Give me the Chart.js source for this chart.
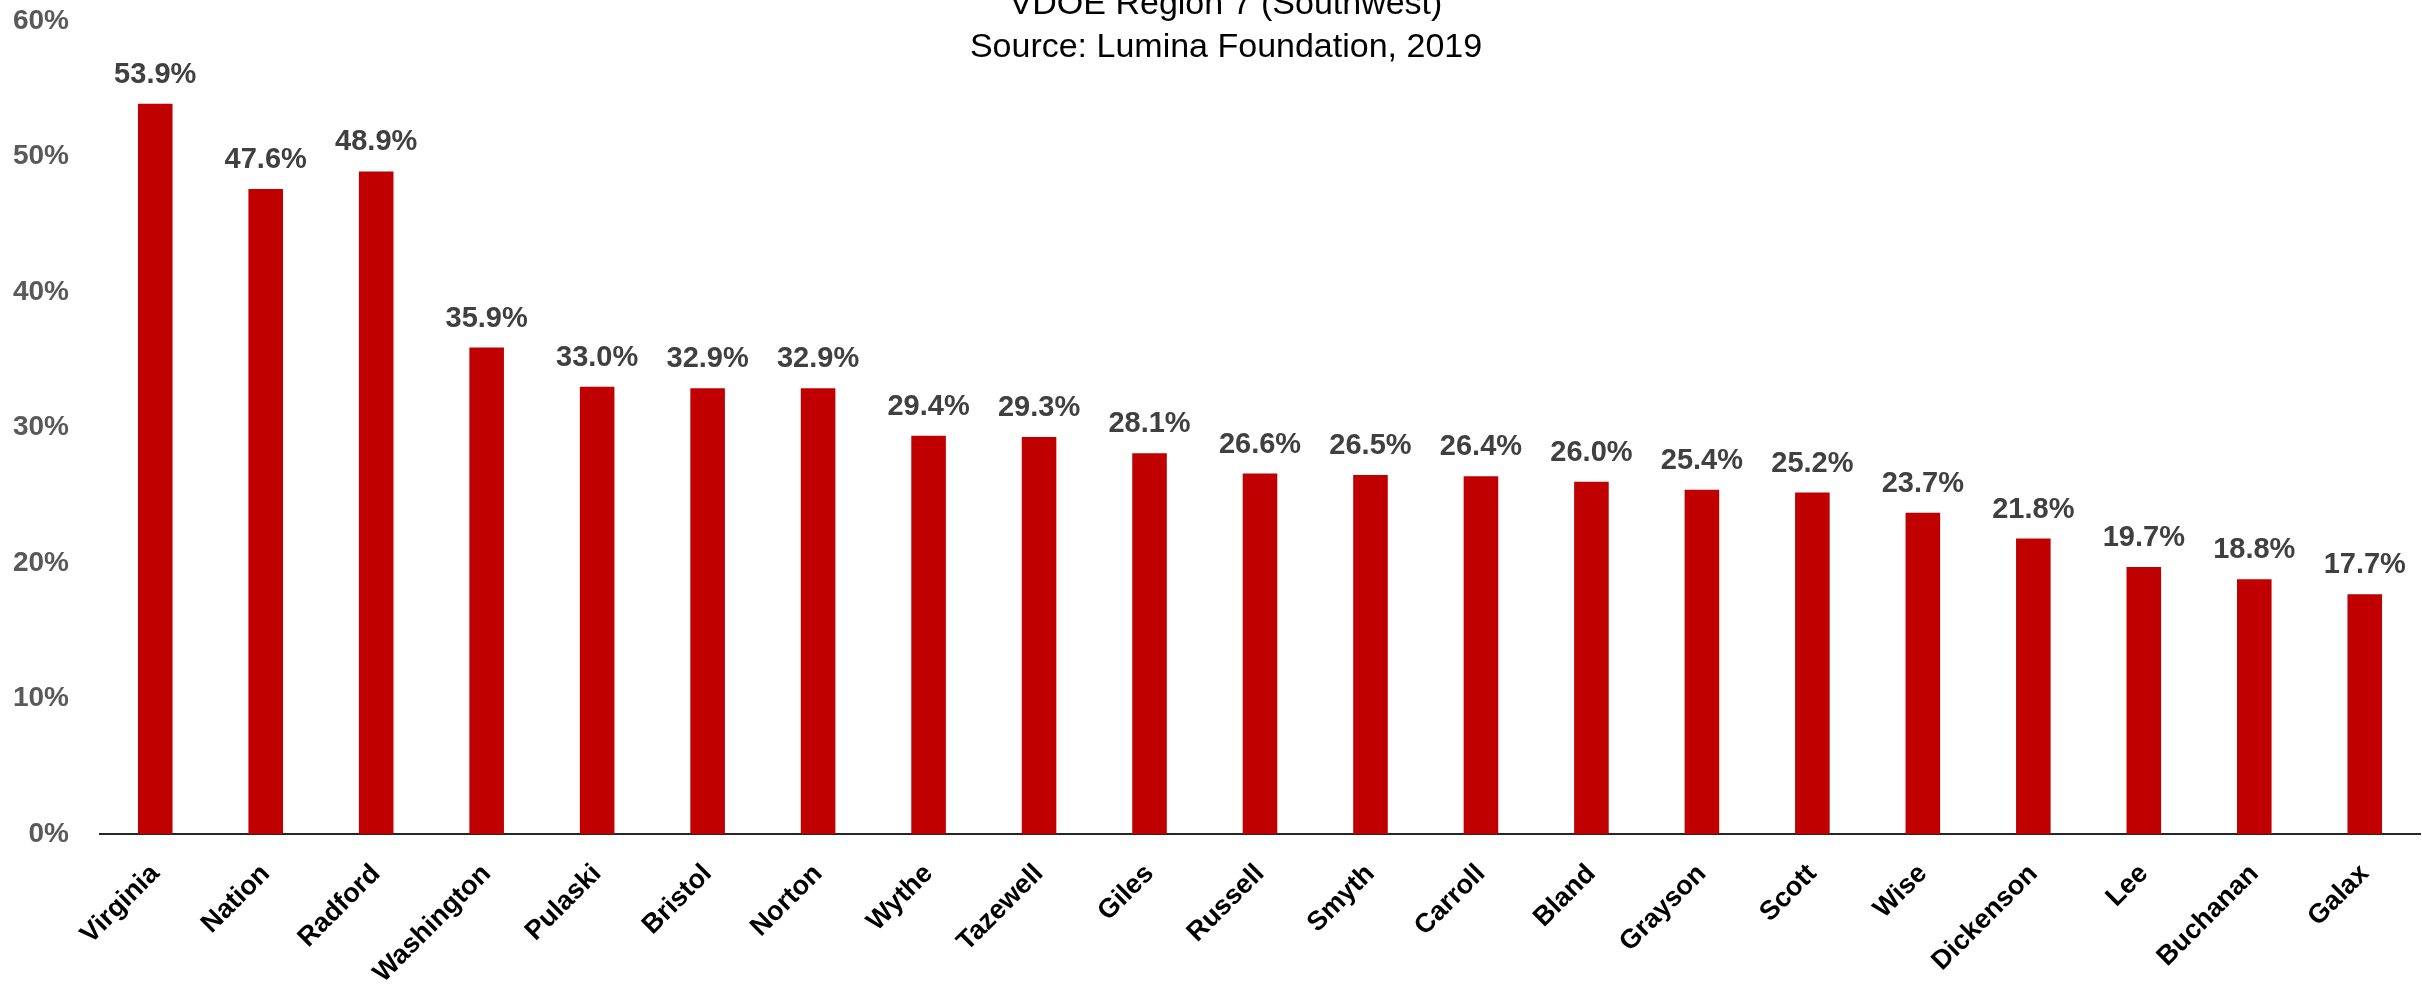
<!DOCTYPE html>
<html>
<head>
<meta charset="utf-8">
<script src="https://cdn.jsdelivr.net/npm/chart.js@4"></script>
<style>
  html, body { margin: 0; padding: 0; background: #ffffff; }
  #wrap { width: 2422px; height: 992px; }
</style>
</head>
<body>
<div id="wrap"><canvas id="c" width="2422" height="992"></canvas></div>
<script>
const titleLines = ["VDOE Region 7 (Southwest)", "Source: Lumina Foundation, 2019"];
const categories = ["Virginia", "Nation", "Radford", "Washington", "Pulaski", "Bristol", "Norton", "Wythe", "Tazewell", "Giles", "Russell", "Smyth", "Carroll", "Bland", "Grayson", "Scott", "Wise", "Dickenson", "Lee", "Buchanan", "Galax"];
const values = [53.9, 47.6, 48.9, 35.9, 33.0, 32.9, 32.9, 29.4, 29.3, 28.1, 26.6, 26.5, 26.4, 26.0, 25.4, 25.2, 23.7, 21.8, 19.7, 18.8, 17.7];
const yMin = 0, yMax = 60, yStep = 10;

const FONT = '"Liberation Sans", Arial, sans-serif';
Chart.defaults.font.family = FONT;

const valueLabels = {
  id: 'valueLabels',
  afterDatasetsDraw(chart) {
    const ctx = chart.ctx;
    const meta = chart.getDatasetMeta(0);
    ctx.save();
    ctx.font = 'bold 29px ' + FONT;
    ctx.fillStyle = '#404040';
    ctx.textAlign = 'center';
    ctx.textBaseline = 'alphabetic';
    meta.data.forEach((bar, i) => {
      ctx.fillText(values[i].toFixed(1) + '%', bar.x, bar.y - 21);
    });
    ctx.restore();
  }
};

const overlayTitle = {
  id: 'overlayTitle',
  afterDraw(chart) {
    const ctx = chart.ctx;
    ctx.save();
    ctx.font = '34px ' + FONT;
    ctx.fillStyle = '#000000';
    ctx.textAlign = 'center';
    ctx.textBaseline = 'alphabetic';
    const cx = 1226;
    ctx.fillText(titleLines[0], cx, 14);
    ctx.fillText(titleLines[1], cx, 57);
    ctx.restore();
  }
};

new Chart(document.getElementById('c'), {
  type: 'bar',
  data: {
    labels: categories,
    datasets: [{
      data: values,
      backgroundColor: '#C00000',
      borderWidth: 0,
      categoryPercentage: 1.0,
      barPercentage: 0.313
    }]
  },
  options: {
    responsive: false,
    animation: false,
    layout: { padding: { top: 21, right: 2, left: 0, bottom: 0 } },
    plugins: {
      legend: { display: false },
      tooltip: { enabled: false },
      title: { display: false }
    },
    scales: {
      x: {
        grid: { display: false, drawTicks: false },
        border: { display: true, color: '#262626', width: 2 },
        ticks: {
          color: '#000000',
          font: { size: 27, weight: 'bold' },
          minRotation: 45,
          maxRotation: 45,
          padding: 24,
          autoSkip: false
        },
        afterFit(scale) { scale.height = 158; scale.paddingTop = 0; scale.paddingBottom = 0; }
      },
      y: {
        min: yMin,
        max: yMax,
        grid: { display: false, drawTicks: false },
        border: { display: false },
        ticks: {
          stepSize: yStep,
          color: '#595959',
          font: { size: 28, weight: 'bold' },
          padding: 31,
          callback: v => v + '%'
        },
        afterFit(scale) { scale.width = 100; scale.paddingTop = 0; scale.paddingBottom = 0; }
      }
    }
  },
  plugins: [valueLabels, overlayTitle]
});
</script>
</body>
</html>
